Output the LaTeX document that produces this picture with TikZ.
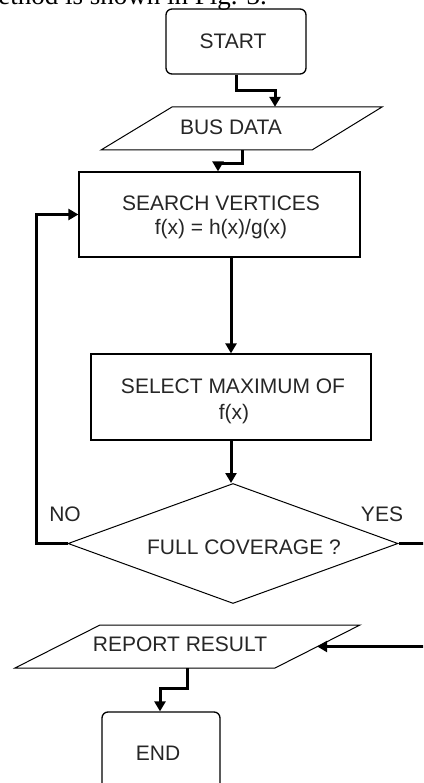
\documentclass[tikz,border=0pt]{standalone}
\usepackage{fontspec}
\setmainfont{Liberation Sans}
\newfontfamily\serifcap{Liberation Serif}
\usetikzlibrary{arrows.meta,shapes.geometric}

\begin{document}
\begin{tikzpicture}[x=1pt,y=-1pt,
  box/.style={draw, line width=1.3pt, inner sep=0pt},
  rbox/.style={box, rounded corners=6pt},
  ghost/.style={inner sep=0pt},
  thinedge/.style={draw, line width=1pt},
  lbl/.style={anchor=base, inner sep=0pt, font=\fontsize{21}{25}\selectfont, text=black!85},
  conn/.style={line width=3pt, -{Triangle[length=10pt,width=11pt]}},
  plainconn/.style={line width=3pt}
]
\useasboundingbox (0,0) rectangle (423,783);
\clip (0,0) rectangle (423,783);

% caption fragment at the top
\node[anchor=base east, inner sep=0pt, font=\serifcap\fontsize{27}{30}\selectfont] (cap) at (267,5) {method is shown in Fig. 3.};

% START
\node[rbox, minimum width=140pt, minimum height=65pt] (start) at (236,41.5) {};
\node[lbl] (startT) at (233,49) {START};

% BUS DATA
\draw[thinedge] (101,150) -- (172,107) -- (382,107) -- (312,150) -- cycle;
\node[ghost, minimum width=140pt, minimum height=43pt] (bus) at (242,128.5) {};
\node[lbl] (busT) at (231,134.3) {BUS DATA};

% SEARCH VERTICES
\node[box, minimum width=281pt, minimum height=85pt] (search) at (219.5,214.5) {};
\node[lbl] (searchT1) at (221,210.7) {SEARCH VERTICES};
\node[lbl] (searchT2) at (221,235) {f(x) = h(x)/g(x)};

% SELECT MAXIMUM
\node[box, minimum width=280pt, minimum height=86pt] (select) at (231,397) {};
\node[lbl] (selT1) at (233,393.3) {SELECT MAXIMUM OF};
\node[lbl] (selT2) at (234,419.3) {f(x)};

% decision
\node[diamond, thinedge, minimum width=330pt, minimum height=120pt, inner sep=0pt] (dec) at (233,543.5) {};
\node[lbl] (decT) at (244,554) {FULL COVERAGE ?};
\node[lbl] (no) at (65,521.7) {NO};
\node[lbl] (yes) at (382,521.7) {YES};

% REPORT RESULT
\draw[thinedge] (15,668) -- (100,625) -- (360,625) -- (275,668) -- cycle;
\node[ghost, minimum width=175pt, minimum height=43pt] (report) at (187.5,646.5) {};
\node[lbl] (repT) at (180,651.7) {REPORT RESULT};

% END
\node[rbox, minimum width=118pt, minimum height=120pt] (endB) at (161,772) {};
\node[lbl] (endT) at (158,760) {END};

% free ends at the right edge
\coordinate (yesEnd) at (430,543.5);
\coordinate (repIn) at (430,646.5);

% connectors
\draw[conn] (start.south) -- ++(0,16) -| ([xshift=33pt]bus.north);
\draw[conn] (bus.south) -- ++(0,13) -| ([xshift=-1.5pt]search.north);
\draw[conn] (search.south -| select.north) -- (select.north);
\draw[conn] (select.south) -- (select.south |- dec.north);
\draw[conn] (dec.west) -- ++(-31,0) |- (search.west);
\draw[plainconn] (dec.east) -- (yesEnd);
\draw[conn] (repIn) -- ([xshift=42pt]report.east);
\draw[conn] (report.south) -- ++(0,20) -| ([xshift=-1pt]endB.north);
\end{tikzpicture}
\end{document}
